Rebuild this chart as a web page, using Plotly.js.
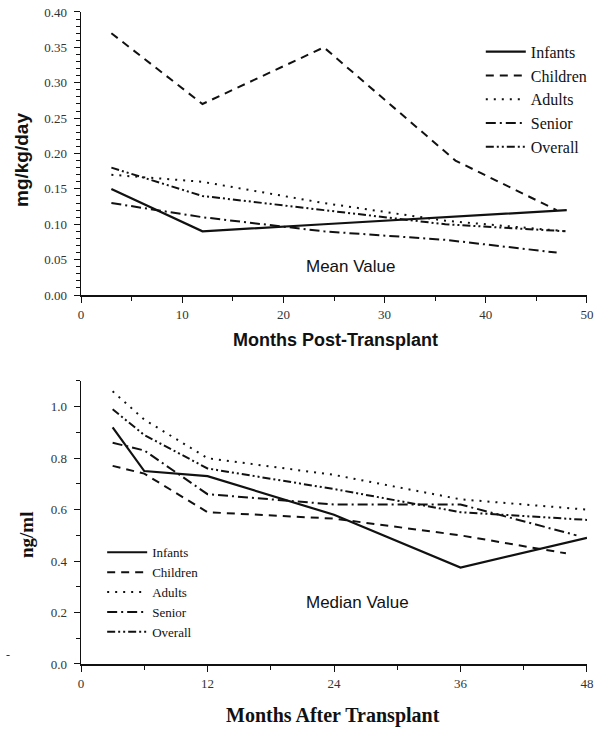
<!DOCTYPE html>
<html>
<head>
<meta charset="utf-8">
<script src="https://cdn.plot.ly/plotly-3.0.1.min.js"></script>
<style>html,body{margin:0;padding:0;background:#fff;}#chart{width:601px;height:731px;}</style>
</head>
<body>
<div id="chart"></div>
<script>
// ---- Top chart: mean dose (mg/kg/day) ----
const seriesNames = ["Infants", "Children", "Adults", "Senior", "Overall"];
const meanInfantsX = [3, 12, 24, 36, 48];
const meanInfantsY = [0.15, 0.09, 0.10, 0.11, 0.12];
const meanChildrenX = [3, 12, 24, 37, 47];
const meanChildrenY = [0.37, 0.27, 0.35, 0.19, 0.12];
const meanAdultsX = [3, 12, 24, 36, 48];
const meanAdultsY = [0.17, 0.16, 0.13, 0.105, 0.09];
const meanSeniorX = [3, 12, 24, 36, 47];
const meanSeniorY = [0.13, 0.11, 0.09, 0.078, 0.06];
const meanOverallX = [3, 12, 24, 36, 48];
const meanOverallY = [0.18, 0.14, 0.12, 0.10, 0.09];

// ---- Bottom chart: median level (ng/ml) ----
const medInfantsX = [3, 6, 12, 24, 36, 48];
const medInfantsY = [0.92, 0.75, 0.73, 0.58, 0.375, 0.49];
const medChildrenX = [3, 6, 12, 24, 36, 46];
const medChildrenY = [0.77, 0.74, 0.59, 0.565, 0.50, 0.43];
const medAdultsX = [3, 6, 12, 24, 36, 48];
const medAdultsY = [1.06, 0.95, 0.80, 0.735, 0.64, 0.60];
const medSeniorX = [3, 6, 12, 24, 36, 47];
const medSeniorY = [0.86, 0.83, 0.66, 0.62, 0.62, 0.50];
const medOverallX = [3, 6, 12, 24, 36, 48];
const medOverallY = [0.99, 0.89, 0.76, 0.68, 0.59, 0.56];

const topXTicks = [0, 10, 20, 30, 40, 50];
const topYTicks = [0, 0.05, 0.10, 0.15, 0.20, 0.25, 0.30, 0.35, 0.40];
const botXTicks = [0, 12, 24, 36, 48];
const botYTicks = [0, 0.2, 0.4, 0.6, 0.8, 1.0];

const dashes = ["solid", "8px,6px", "2px,6px", "10px,4px,2px,4px", "8px,3px,2px,3px,2px,3px"];
const widths = [2.2, 2, 2, 2, 2];

const meanX = [meanInfantsX, meanChildrenX, meanAdultsX, meanSeniorX, meanOverallX];
const meanY = [meanInfantsY, meanChildrenY, meanAdultsY, meanSeniorY, meanOverallY];
const medX = [medInfantsX, medChildrenX, medAdultsX, medSeniorX, medOverallX];
const medY = [medInfantsY, medChildrenY, medAdultsY, medSeniorY, medOverallY];

const traces = [];
seriesNames.forEach((n, i) => {
  traces.push({x: meanX[i], y: meanY[i], name: n, type: "scatter", mode: "lines",
    xaxis: "x", yaxis: "y", legend: "legend",
    line: {color: "#111", width: widths[i], dash: dashes[i]}});
});
seriesNames.forEach((n, i) => {
  traces.push({x: medX[i], y: medY[i], name: n, type: "scatter", mode: "lines",
    xaxis: "x2", yaxis: "y2", legend: "legend2",
    line: {color: "#111", width: widths[i], dash: dashes[i]}});
});

const serif = "Liberation Serif, Times New Roman, serif";
const sans = "Liberation Sans, Arial, sans-serif";
const tickFont = {family: serif, size: 13, color: "#333"};

const axBase = {showgrid: false, zeroline: false, showline: true, linecolor: "#111",
  ticks: "outside", tickcolor: "#111", tickfont: tickFont, fixedrange: true};

function note(text, px, py, font, extra) {
  return Object.assign({text: text, xref: "paper", yref: "paper", x: px / 601, y: 1 - py / 731,
    xanchor: "center", yanchor: "middle", showarrow: false, font: font}, extra || {});
}

const layout = {
  width: 601, height: 731,
  margin: {l: 0, r: 0, t: 0, b: 0},
  paper_bgcolor: "#fff", plot_bgcolor: "#fff",
  showlegend: true,
  xaxis: Object.assign({}, axBase, {domain: [0.1348, 0.9767], range: [0, 50], anchor: "y",
    tickvals: topXTicks, ticklen: 6, linewidth: 2,
    minor: {dtick: 5, ticklen: 4, ticks: "outside", tickcolor: "#111"}}),
  yaxis: Object.assign({}, axBase, {domain: [0.5964, 0.9836], range: [0, 0.40], anchor: "x",
    tickvals: topYTicks, tickformat: ".2f", ticklen: 6, linewidth: 1.5, ticklabelstandoff: 4,
    minor: {dtick: 0.01, ticklen: 4, ticks: "outside", tickcolor: "#111"}}),
  xaxis2: Object.assign({}, axBase, {domain: [0.1348, 0.9767], range: [0, 48], anchor: "y2",
    tickvals: botXTicks, ticklen: 6, linewidth: 2,
    minor: {dtick: 6, ticklen: 4, ticks: "outside", tickcolor: "#111"}}),
  yaxis2: Object.assign({}, axBase, {domain: [0.0917, 0.4788], range: [0, 1.1], anchor: "x2",
    tickvals: botYTicks, tickformat: ".1f", ticklen: 6, linewidth: 1.5, ticklabelstandoff: 4,
    minor: {dtick: 0.1, ticklen: 4, ticks: "outside", tickcolor: "#111"}}),
  legend: {x: 0.80, y: 0.9525, xanchor: "left", yanchor: "top", bgcolor: "rgba(0,0,0,0)",
    font: {family: serif, size: 16, color: "#111"}, tracegroupgap: 0, itemwidth: 40},
  legend2: {x: 0.17, y: 0.265, xanchor: "left", yanchor: "top", bgcolor: "rgba(0,0,0,0)",
    font: {family: serif, size: 13, color: "#111"}, tracegroupgap: 0, itemwidth: 40},
  annotations: [
    note("Mean Value", 350, 266, {family: sans, size: 17, color: "#111"}),
    note("Median Value", 357, 602, {family: sans, size: 17, color: "#111"}),
    note("<b>mg/kg/day</b>", 21, 160, {family: sans, size: 19, color: "#111"}, {textangle: -90}),
    note("<b>Months Post-Transplant</b>", 336, 340, {family: sans, size: 18, color: "#111"}),
    note("<b>ng/ml</b>", 26, 535, {family: serif, size: 19, color: "#111"}, {textangle: -90}),
    note("<b>Months After Transplant</b>", 333, 715, {family: serif, size: 20, color: "#111"}),
    note("-", 8, 655, {family: serif, size: 12, color: "#333"})
  ]
};

Plotly.newPlot("chart", traces, layout, {staticPlot: true, displayModeBar: false});
</script>
</body>
</html>
